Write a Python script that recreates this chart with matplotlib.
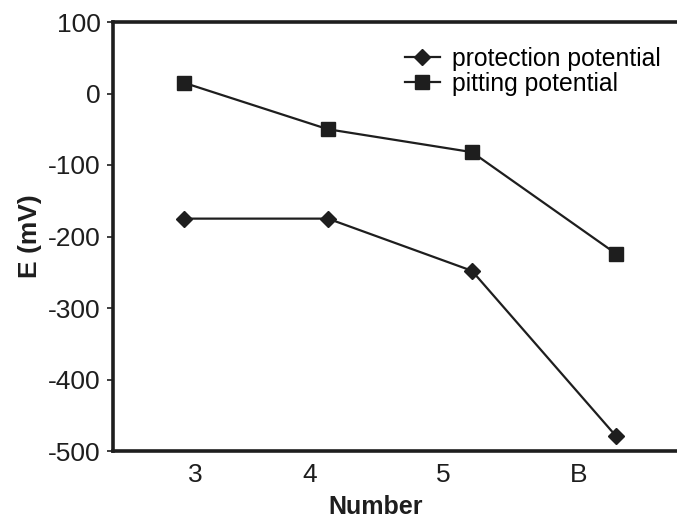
import numpy as np
import matplotlib
matplotlib.use('Agg')
import matplotlib.pyplot as plt

plt.rcParams['font.family'] = ['Liberation Sans', 'DejaVu Sans']
plt.rcParams['axes.unicode_minus'] = False

# data
samples = ['3', '4', '5', 'B']
protection = [-175, -175, -248, -479]
pitting = [15, -50, -82, -224]
y_ticks = [100, 0, -100, -200, -300, -400, -500]
# the category labels in the original sit a bit off the data points
label_pos = [0.08, 0.87, 1.80, 2.74]

ink = '#1e1e1e'

fig = plt.figure(figsize=(6.77, 5.18), dpi=100)
ax = fig.add_axes([113 / 677, 1 - 451 / 518, 1 - 113 / 677, (451 - 22) / 518])

x = np.arange(len(samples))
ax.plot(x, protection, color=ink, lw=1.6, marker='D', ms=8,
        mfc=ink, mec=ink, label='protection potential')
ax.plot(x, pitting, color=ink, lw=1.6, marker='s', ms=10,
        mfc=ink, mec=ink, label='pitting potential')

ax.set_xlim(-0.493, 3.424)
ax.set_ylim(-500, 100)
ax.set_yticks(y_ticks)
ax.set_xticks(label_pos)
ax.set_xticklabels(samples)

ax.tick_params(axis='y', direction='out', length=4, width=1.2, pad=5,
               labelsize=19, color=ink, labelcolor=ink)
ax.tick_params(axis='x', length=0, pad=8.5, labelsize=19, labelcolor=ink)

for side in ['left', 'bottom', 'top']:
    ax.spines[side].set_linewidth(2.6)
    ax.spines[side].set_color(ink)
ax.spines['right'].set_visible(False)

ax.set_xlabel('Number', fontsize=18, fontweight='bold', color=ink)
ax.xaxis.set_label_coords(0.466, -0.102)
ax.set_ylabel('E (mV)', fontsize=19, fontweight='bold', color=ink)
ax.yaxis.set_label_coords(-0.126, 0.5)

ax.legend(loc='upper left', bbox_to_anchor=(0.518, 0.942), frameon=False,
          fontsize=17.8, borderpad=0, borderaxespad=0, handlelength=1.4,
          handletextpad=0.5, labelspacing=0.03)

fig.savefig('out.png', dpi=100)
